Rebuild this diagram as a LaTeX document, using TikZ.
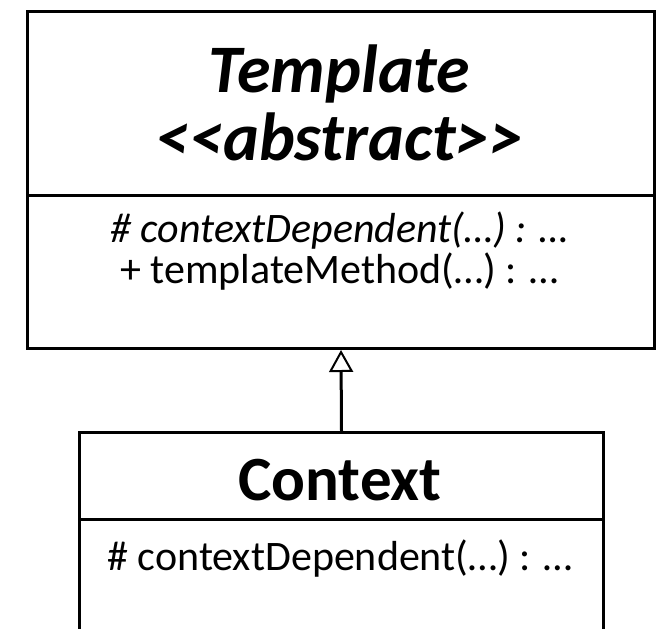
\documentclass[tikz,border=0pt]{standalone}
\usepackage{fontspec}
\setmainfont[Ligatures=NoCommon]{Carlito}
\usetikzlibrary{arrows.meta}
\begin{document}
\begin{tikzpicture}[x=1pt,y=-1pt,
  classbox/.style={draw,line width=3pt,rectangle,inner sep=0pt,anchor=north west},
  divider/.style={line width=3pt},
  titletext/.style={anchor=base,inner sep=0pt,font=\fontsize{68}{72}\selectfont\bfseries\itshape},
  nametext/.style={anchor=base,inner sep=0pt,font=\fontsize{63}{67}\selectfont\bfseries},
  membertext/.style={anchor=base,inner sep=0pt,font=\fontsize{42}{46}\selectfont},
  inherit/.style={line width=3pt,-{Triangle[open,length=22pt,width=24pt,line width=2pt]}}]
  \useasboundingbox (0,0) rectangle (664,629);
  \clip (0,0) rectangle (664,629);
  \fill[white] (0,0) rectangle (664,629);

  % abstract class
  \node[classbox,minimum width=627pt,minimum height=337pt] (tmpl) at (26,10) {};
  \coordinate (tdl) at (26,195);
  \coordinate (tdr) at (653,195);
  \draw[divider] (tdl) -- (tdr);
  \node[titletext] (tname) at (339.5,92) {Template};
  \node[titletext] (tstereo) at (339.5,160) {<{}<abstract>{}>};
  \node[membertext,font=\fontsize{42}{46}\selectfont\itshape] (tm1) at (339.5,242) {\# contextDependent(…) : …};
  \node[membertext] (tm2) at (339.5,283) {+ templateMethod(…) : …};

  % concrete class
  \node[classbox,minimum width=524pt,minimum height=260pt] (ctx) at (78,431) {};
  \coordinate (cdl) at (78,519);
  \coordinate (cdr) at (602,519);
  \draw[divider] (cdl) -- (cdr);
  \node[nametext] (cname) at (340,500) {Context};
  \node[membertext] (cm1) at (340,570) {\# contextDependent(…) : …};

  % generalisation
  \draw[inherit] (ctx.north) -- (tmpl.south);
\end{tikzpicture}
\end{document}
